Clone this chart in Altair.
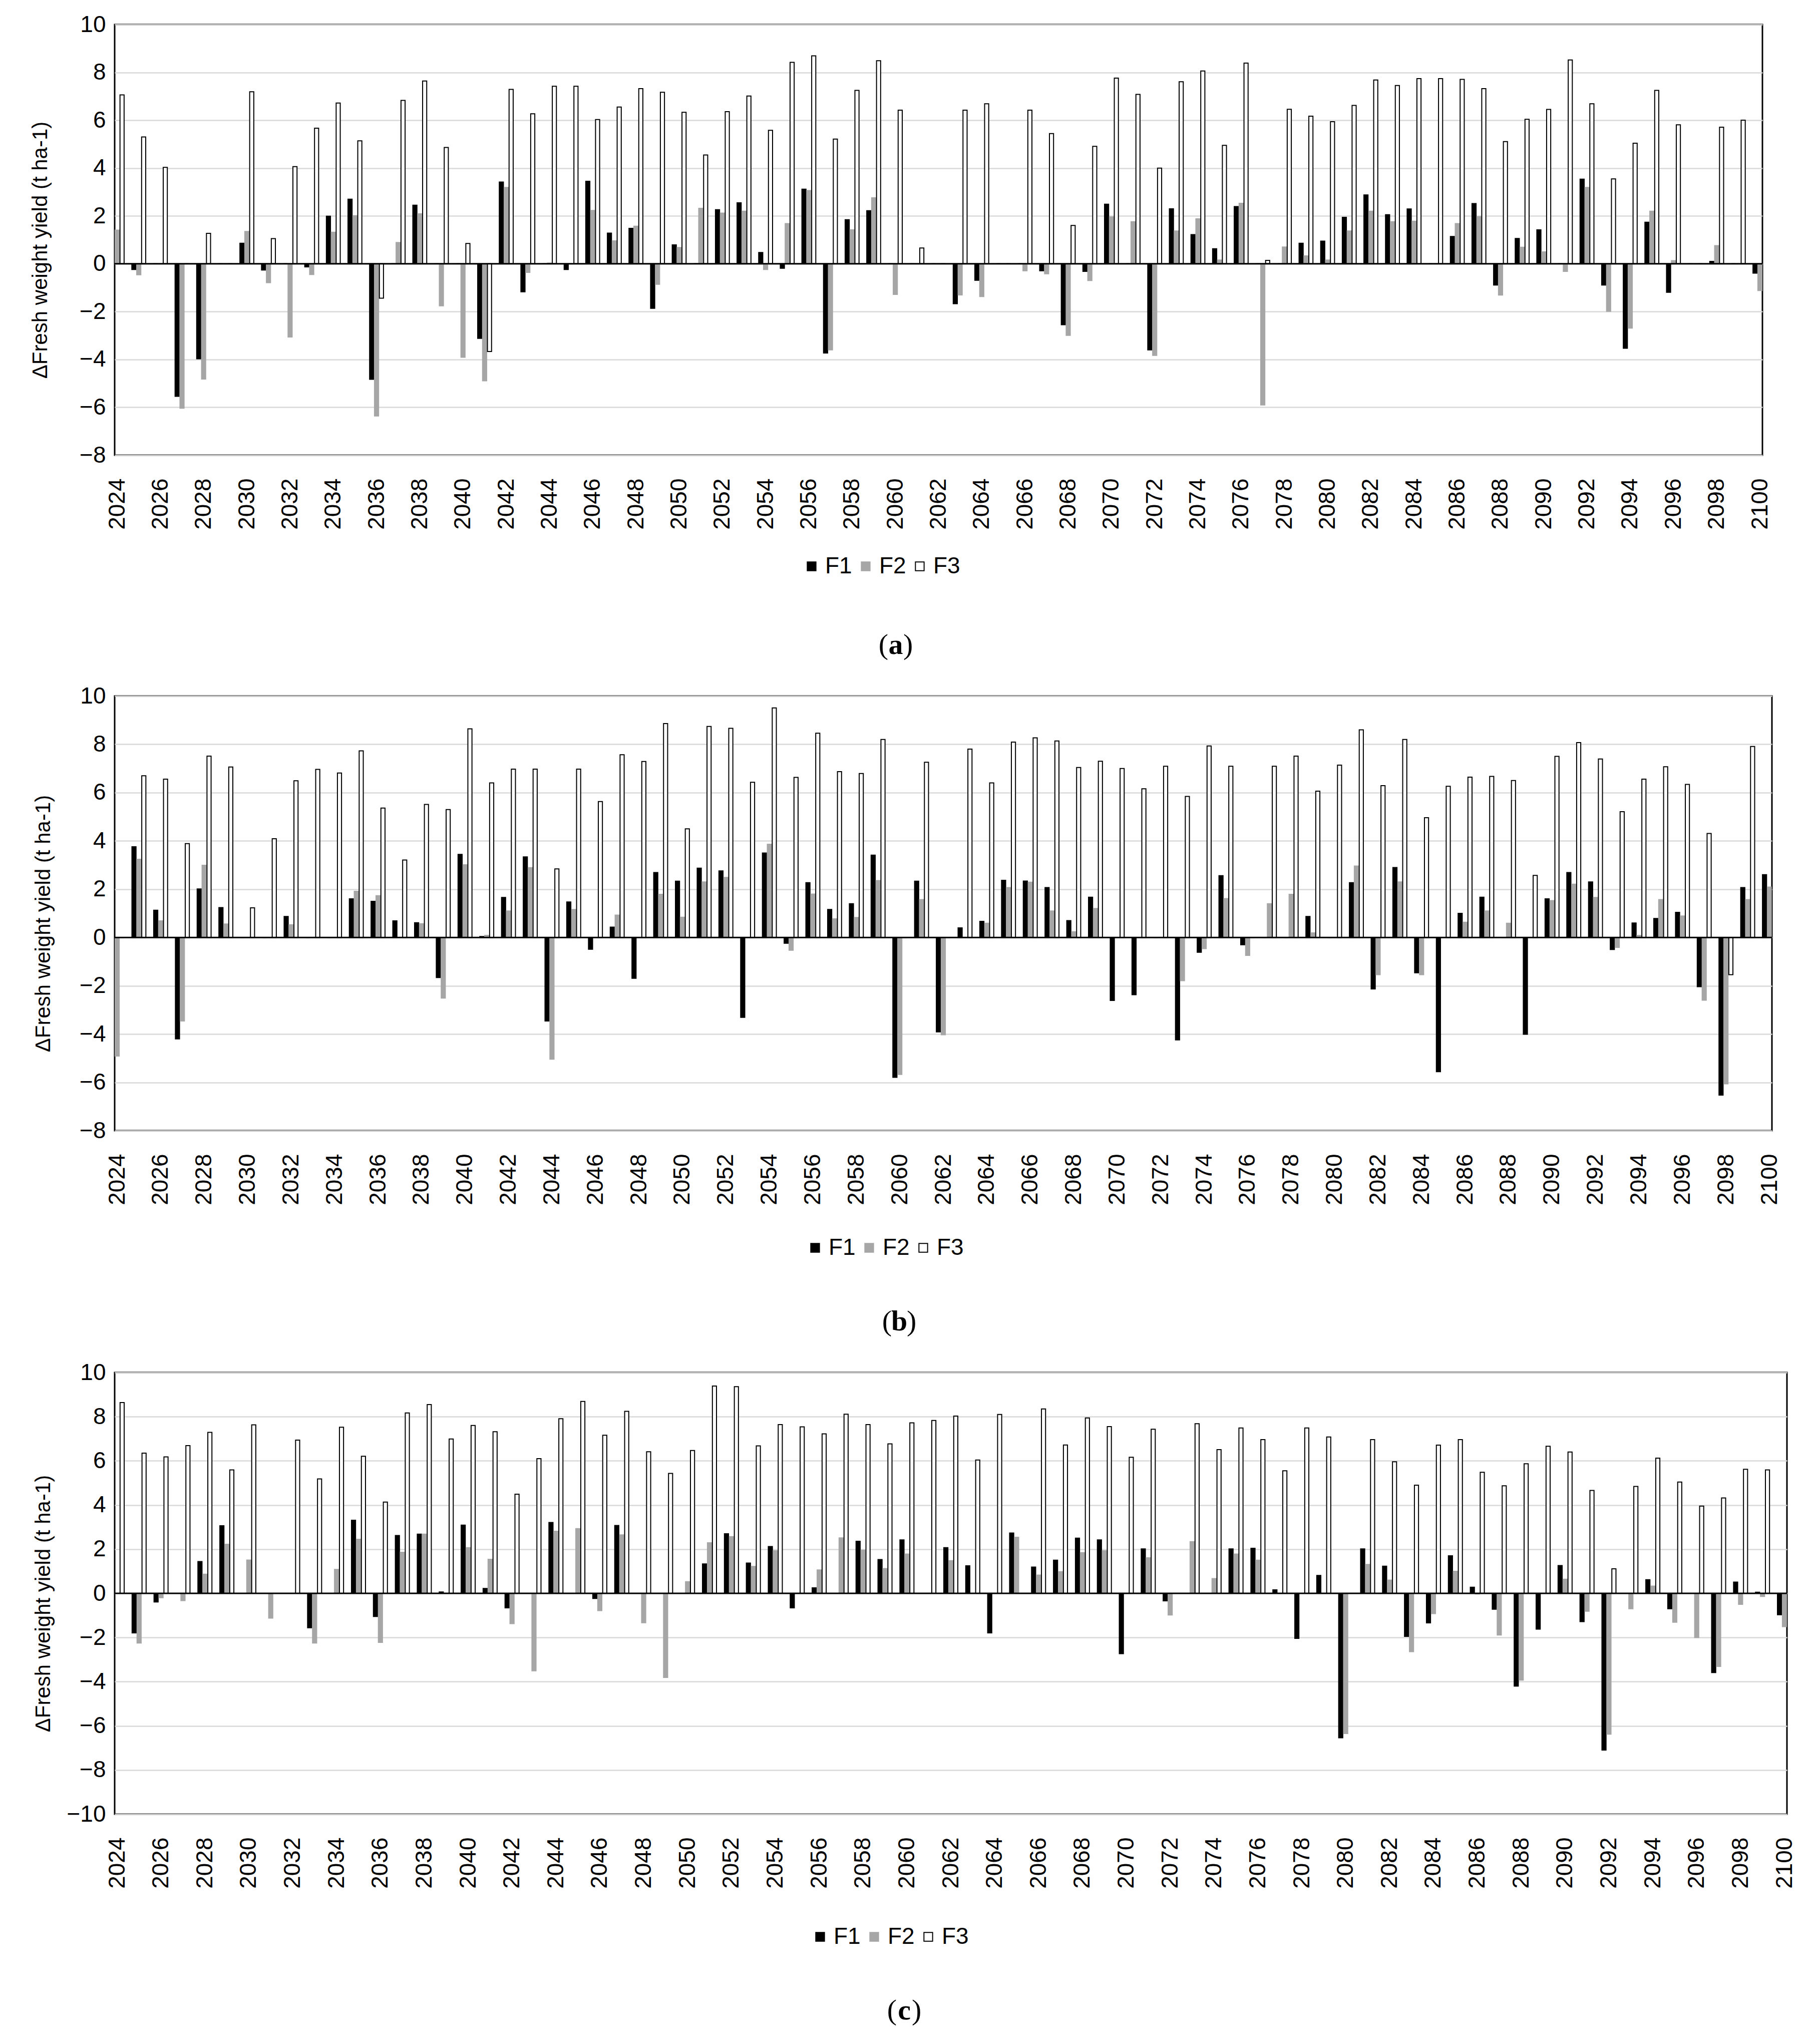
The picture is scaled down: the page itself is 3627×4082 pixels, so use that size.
import altair as alt
import pandas as pd

years = list(range(2024, 2101))
series_names = ["F1", "F2", "F3"]
captions = ["a", "b", "c"]
y_title = "ΔFresh weight yield (t ha-1)"

a_F1 = [0, -0.24, 0, -5.54, -3.97, 0, 0.86, -0.26, 0, -0.13, 1.99, 2.70, -4.83, 0, 2.45, 0, 0, -3.12, 3.42, -1.17,
        0, -0.24, 3.45, 1.28, 1.48, -1.86, 0.79, 0, 2.26, 2.55, 0.47, -0.19, 3.12, -3.73, 1.84, 2.22, 0, 0, 0, -1.67,
        -0.69, 0, 0, -0.29, -2.55, -0.32, 2.49, 0, -3.60, 2.30, 1.22, 0.63, 2.39, 0, 0, 0.86, 0.95, 1.94, 2.88, 2.05,
        2.29, 0, 1.14, 2.52, -0.89, 1.06, 1.42, 0, 3.54, -0.89, -3.53, 1.74, -1.19, 0, 0.10, 0, -0.39]
a_F2 = [1.41, -0.46, 0, -6.04, -4.82, 0, 1.35, -0.79, -3.06, -0.45, 1.32, 2.01, -6.36, 0.89, 2.09, -1.76, -3.91, -4.89, 3.19, -0.36,
        0.03, 0, 2.23, 0.96, 1.57, -0.86, 0.68, 2.32, 2.12, 2.20, -0.24, 1.68, 3.06, -3.60, 1.42, 2.76, -1.28, 0, 0, -1.30,
        -1.37, 0, -0.29, -0.42, -2.99, -0.70, 1.96, 1.76, -3.83, 1.37, 1.88, 0.16, 2.53, -5.90, 0.70, 0.33, 0.16, 1.37, 2.20, 1.76,
        1.78, 0, 1.68, 1.97, -1.31, 0.69, 0.50, -0.32, 3.19, -1.99, -2.69, 2.20, 0.13, 0, 0.76, 0, -1.12]
a_F3 = [7.06, 5.30, 4.03, 0, 1.27, 0, 7.19, 1.05, 4.06, 5.67, 6.72, 5.14, -1.44, 6.83, 7.64, 4.86, 0.85, -3.67, 7.29, 6.27,
        7.42, 7.42, 6.03, 6.55, 7.32, 7.17, 6.33, 4.55, 6.36, 7.01, 5.58, 8.42, 8.69, 5.21, 7.25, 8.49, 6.42, 0.66, 0, 6.42,
        6.69, 0, 6.42, 5.44, 1.60, 4.91, 7.76, 7.08, 4.00, 7.61, 8.06, 4.95, 8.39, 0.14, 6.46, 6.17, 5.94, 6.62, 7.68, 7.45,
        7.74, 7.74, 7.71, 7.32, 5.11, 6.04, 6.45, 8.52, 6.69, 3.55, 5.04, 7.25, 5.81, 0, 5.71, 6.00, 5.44]

b_F1 = [0, 3.76, 1.13, -4.20, 2.01, 1.24, 0, 0, 0.87, 0, 0, 1.60, 1.50, 0.69, 0.61, -1.66, 3.44, 0.04, 1.66, 3.34,
        -3.46, 1.47, -0.49, 0.43, -1.69, 2.69, 2.33, 2.87, 2.76, -3.31, 3.50, -0.24, 2.27, 1.16, 1.40, 3.41, -5.79, 2.33, -3.91, 0.40,
        0.67, 2.37, 2.34, 2.07, 0.70, 1.67, -2.61, -2.37, 0, -4.24, -0.61, 2.56, -0.30, 0, 0, 0.87, 0, 2.27, -2.13, 2.90,
        -1.46, -5.56, 1.00, 1.67, 0, -4.01, 1.60, 2.69, 2.30, -0.50, 0.60, 0.79, 1.04, -2.04, -6.53, 2.07, 2.60]
b_F2 = [-4.91, 3.24, 0.69, -3.46, 2.99, 0.56, 0, 0, 0.53, 0, 0, 1.91, 1.73, 0, 0.57, -2.51, 3.01, 0.09, 1.10, 2.89,
        -5.04, 1.16, 0, 0.93, 0, 1.79, 0.84, 2.30, 2.49, 0, 3.86, -0.53, 1.80, 0.77, 0.83, 2.36, -5.67, 1.57, -4.03, 0,
        0.59, 2.07, 2.29, 1.10, 0.24, 1.20, 0, 0, 0, -1.79, -0.46, 1.61, -0.74, 1.40, 1.79, 0.19, 0, 2.96, -1.54, 2.30,
        -1.54, 0, 0.63, 1.10, 0.59, 0, 1.53, 2.21, 1.66, -0.41, 0.09, 1.57, 0.89, -2.60, -6.06, 1.57, 2.09]
b_F3 = [0, 6.70, 6.56, 3.89, 7.51, 7.06, 1.23, 4.09, 6.49, 6.96, 6.81, 7.73, 5.36, 3.21, 5.51, 5.30, 8.64, 6.40, 6.97, 6.97,
        2.84, 6.97, 5.63, 7.57, 7.29, 8.86, 4.50, 8.74, 8.66, 6.43, 9.51, 6.63, 8.46, 6.87, 6.79, 8.20, 0, 7.26, 0, 7.80,
        6.40, 8.09, 8.27, 8.14, 7.04, 7.30, 7.00, 6.16, 7.09, 5.84, 7.93, 7.09, 0, 7.09, 7.51, 6.06, 7.14, 8.60, 6.29, 8.20,
        4.96, 6.26, 6.64, 6.67, 6.50, 2.57, 7.50, 8.07, 7.39, 5.21, 6.56, 7.07, 6.34, 4.31, -1.54, 7.91, 8.00]

c_F1 = [0, -1.79, -0.39, 0, 1.44, 3.06, 0, 0, 0, -1.56, 0, 3.31, -1.05, 2.62, 2.68, 0.06, 3.09, 0.22, -0.66, 0,
        3.21, 0, -0.23, 3.07, 0, 0, 0, 1.33, 2.70, 1.37, 2.12, -0.66, 0.25, 0, 2.36, 1.53, 2.42, 0, 2.07, 1.25,
        -1.79, 2.73, 1.19, 1.50, 2.50, 2.42, -2.73, 2.01, -0.34, 0, 0, 2.01, 2.04, 0.16, -2.04, 0.81, -6.54, 2.01, 1.23, -1.95,
        -1.34, 1.70, 0.28, -0.72, -4.20, -1.62, 1.26, -1.28, -7.10, 0, 0.62, -0.70, 0, -3.59, 0.51, 0.05, -0.97]
c_F2 = [0, -2.25, -0.20, -0.33, 0.87, 2.22, 1.51, -1.12, 0, -2.25, 1.08, 2.45, -2.22, 1.86, 2.68, 0, 2.07, 1.54, -1.37, -3.51,
        2.81, 2.93, -0.78, 2.65, -1.33, -3.81, 0.53, 2.29, 2.57, 1.22, 1.93, 0, 1.06, 2.51, 1.95, 1.12, 1.78, 0, 1.48, 0,
        0, 2.54, 0.83, 0.98, 1.84, 1.93, 0, 1.61, -0.98, 2.34, 0.67, 1.78, 1.50, 0, 0, 0, -6.35, 1.31, 0.60, -2.64,
        -0.92, 1.00, -0.03, -1.89, -3.93, 0, 0.64, -0.81, -6.38, -0.70, 0.33, -1.31, -2.00, -3.31, -0.50, -0.14, -1.51]
c_F3 = [8.64, 6.35, 6.18, 6.69, 7.29, 5.59, 7.63, 0, 6.94, 5.18, 7.52, 6.21, 4.13, 8.17, 8.55, 6.99, 7.60, 7.32, 4.49, 6.10,
        7.91, 8.69, 7.16, 8.24, 6.41, 5.43, 6.47, 9.39, 9.36, 6.68, 7.64, 7.54, 7.22, 8.11, 7.64, 6.77, 7.72, 7.83, 8.03, 6.04,
        8.10, 0, 8.35, 6.72, 7.94, 7.55, 6.16, 7.43, 0, 7.68, 6.51, 7.49, 6.96, 5.55, 7.49, 7.08, 0, 6.96, 5.96, 4.90,
        6.71, 6.96, 5.48, 4.87, 5.87, 6.66, 6.40, 4.66, 1.11, 4.84, 6.12, 5.04, 3.95, 4.32, 5.62, 5.59, 4.41]

SANS = "'Liberation Sans', Arial, sans-serif"
SERIF = "'Liberation Serif', 'Times New Roman', serif"
FS = 46
TITLE_FS = 42
CAP_FS = 58


def panel(f1, f2, f3, ymin, cap, width, height, title_pad, leg_x, leg_y, cap_x, cap_y):
    df = pd.DataFrame({
        "year": years * 3,
        "series": [series_names[0]] * len(years) + [series_names[1]] * len(years) + [series_names[2]] * len(years),
        "value": f1 + f2 + f3,
    })
    xscale = alt.Scale(domain=[2024, 2100], nice=False, zero=False)
    yscale = alt.Scale(domain=[ymin, 10], nice=False, zero=False)
    leg = alt.Legend(title=None, orient="none", legendX=leg_x, legendY=leg_y, direction="horizontal",
                     symbolType="square", symbolSize=300, symbolStrokeWidth=2, labelFont=SANS,
                     labelFontSize=FS, labelColor="black", columnPadding=4, labelOffset=4)
    bars = alt.Chart(df).transform_calculate(
        xpos="datum.year + (datum.series == 'F1' ? -0.226 : (datum.series == 'F3' ? 0.226 : 0))"
    ).mark_bar(size=8.2, strokeWidth=2, clip=True).encode(
        x=alt.X("xpos:Q", scale=xscale, title=None,
                axis=alt.Axis(values=list(range(2024, 2101, 2)), format="d", labelAngle=-90,
                              labelPadding=46, grid=False, labelFlush=False)),
        y=alt.Y("value:Q", scale=yscale, title=y_title,
                axis=alt.Axis(values=list(range(ymin, 11, 2)), labelPadding=18, titlePadding=title_pad,
                              titleFontSize=TITLE_FS, titleY=height / 2 + 20, labelFlush=False)),
        fill=alt.Fill("series:N", scale=alt.Scale(domain=series_names, range=["#000000", "#a6a6a6", "#ffffff"]), legend=leg),
        stroke=alt.Stroke("series:N", scale=alt.Scale(domain=series_names, range=["#000000", "#a6a6a6", "#000000"]), legend=leg),
    )
    zero = alt.Chart(alt.Data(values=[{"z": 0}])).mark_rule(color="black", strokeWidth=3).encode(
        y=alt.datum(0)
    )
    capdata = alt.Data(values=[{"t": cap}])
    c_mid = alt.Chart(capdata).mark_text(font=SERIF, fontSize=CAP_FS, fontWeight="bold", baseline="middle",
                                         align="center", color="black").encode(
        x=alt.value(cap_x), y=alt.value(cap_y), text="t:N")
    c_l = alt.Chart(capdata).mark_text(font=SERIF, fontSize=CAP_FS, baseline="middle", align="right",
                                       color="black", text="(").encode(x=alt.value(cap_x - 15), y=alt.value(cap_y))
    c_r = alt.Chart(capdata).mark_text(font=SERIF, fontSize=CAP_FS, baseline="middle", align="left",
                                       color="black", text=")").encode(x=alt.value(cap_x + 15), y=alt.value(cap_y))
    return alt.layer(bars, zero, c_l, c_mid, c_r).properties(width=width, height=height)


pa = panel(a_F1, a_F2, a_F3, -8, captions[0], 3291, 860, 56, 1369, 1059, 1560, 1240)
pb = panel(b_F1, b_F2, b_F3, -8, captions[1], 3310, 868, 50, 1376, 1079, 1567, 1250)
pc = panel(c_F1, c_F2, c_F3, -10, captions[2], 3340, 882, 24, 1386, 1104, 1577, 1275)

chart = alt.concat(pa, pb, pc, columns=1, spacing=45, align="none").resolve_scale(
    fill="independent", stroke="independent"
).resolve_legend(
    fill="independent", stroke="independent"
).properties(
    padding={"left": 50, "top": 16, "right": 5, "bottom": 5},
    background="white",
).configure_view(stroke="black", strokeWidth=3).configure_axis(
    labelFont=SANS, labelFontSize=FS, labelColor="black",
    titleFont=SANS, titleFontSize=TITLE_FS, titleFontWeight="normal", titleColor="black",
    gridColor="#d9d9d9", gridWidth=2.5, domain=False, ticks=False,
)

chart.save("out.html", embed_options={"renderer": "svg", "actions": False})
